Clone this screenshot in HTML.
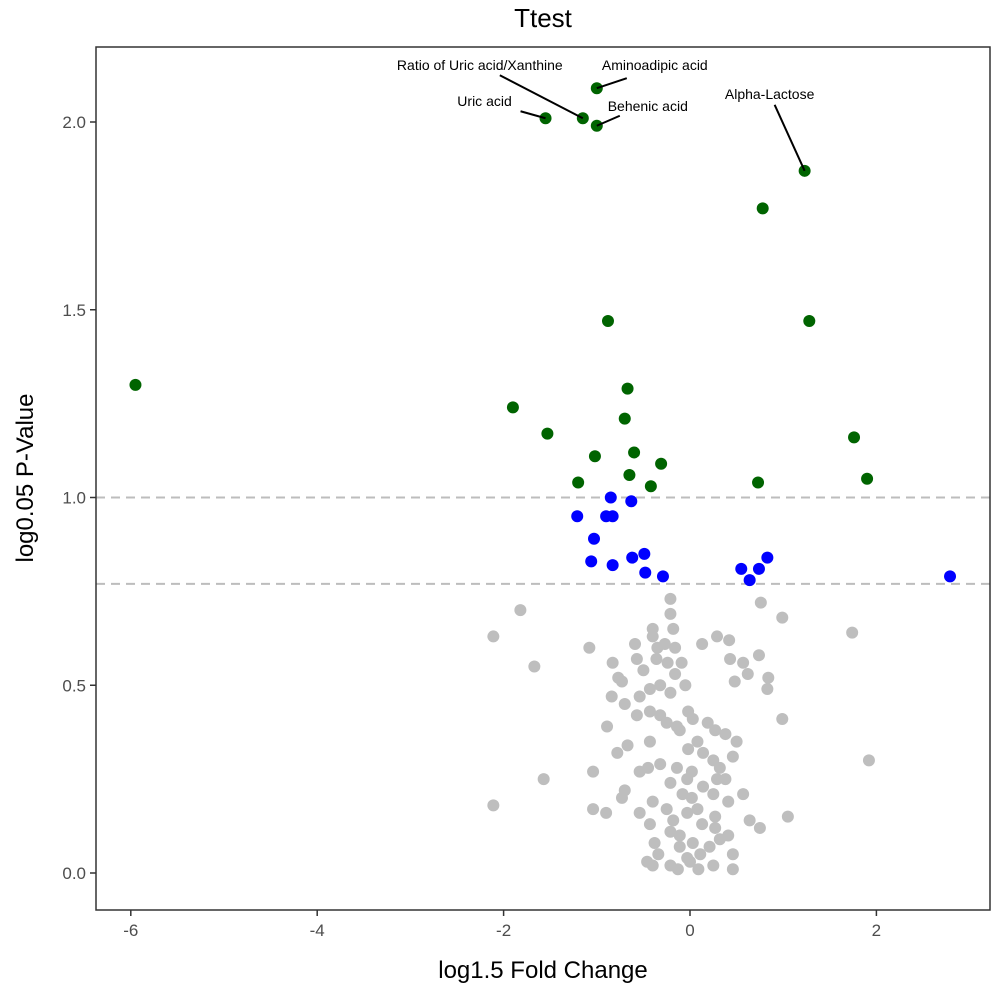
<!DOCTYPE html>
<html><head><meta charset="utf-8"><style>
body{margin:0;background:#fff}
svg{display:block;font-family:"Liberation Sans",sans-serif}
</style></head><body>
<svg id="chart" width="992" height="990"></svg>
<script>
const grayX=[-0.21,-0.21,-0.18,-0.40,-0.40,0.76,0.99,-1.08,-0.59,-0.35,-0.27,-0.16,0.13,0.29,0.42,0.74,-0.83,-0.57,-0.36,-0.24,-0.09,-0.50,-0.16,0.43,0.57,0.62,0.84,0.83,0.48,-0.77,-0.73,-0.05,-0.32,-0.43,-0.21,-0.84,-0.70,-0.54,0.99,-0.89,-0.57,-0.43,-0.32,-0.25,-0.14,-0.11,-0.02,0.03,0.19,0.27,0.38,0.50,-0.67,-0.43,-0.78,0.08,-0.02,0.14,0.25,0.46,-1.04,-0.54,-0.45,-0.32,-0.14,0.02,0.32,-0.03,-0.21,0.14,0.29,0.38,-0.70,-0.73,-0.08,0.25,0.41,0.57,0.02,-1.04,-0.90,-0.54,-0.40,-0.25,-0.43,-0.18,-0.03,0.08,0.27,0.27,0.41,0.64,0.75,1.05,-0.21,-0.11,0.13,-0.38,-0.34,-0.11,0.03,0.11,0.21,0.32,0.46,-0.46,-0.40,-0.21,-0.13,0.00,0.09,0.25,0.46,-0.03,-2.11,-1.82,-1.67,-1.57,-2.11,1.74,1.92];
const grayY=[0.73,0.69,0.65,0.65,0.63,0.72,0.68,0.60,0.61,0.60,0.61,0.60,0.61,0.63,0.62,0.58,0.56,0.57,0.57,0.56,0.56,0.54,0.53,0.57,0.56,0.53,0.52,0.49,0.51,0.52,0.51,0.50,0.50,0.49,0.48,0.47,0.45,0.47,0.41,0.39,0.42,0.43,0.42,0.40,0.39,0.38,0.43,0.41,0.40,0.38,0.37,0.35,0.34,0.35,0.32,0.35,0.33,0.32,0.30,0.31,0.27,0.27,0.28,0.29,0.28,0.27,0.28,0.25,0.24,0.23,0.25,0.25,0.22,0.20,0.21,0.21,0.19,0.21,0.20,0.17,0.16,0.16,0.19,0.17,0.13,0.14,0.16,0.17,0.15,0.12,0.10,0.14,0.12,0.15,0.11,0.10,0.13,0.08,0.05,0.07,0.08,0.05,0.07,0.09,0.05,0.03,0.02,0.02,0.01,0.03,0.01,0.02,0.01,0.04,0.63,0.70,0.55,0.25,0.18,0.64,0.30];
const greenX=[-5.95,-1.90,-1.53,-1.20,-1.02,-0.67,-0.70,-0.65,-0.60,-0.31,-0.42,-0.88,-1.55,-1.15,-1.00,-1.00,1.23,0.78,1.28,1.76,1.90,0.73];
const greenY=[1.30,1.24,1.17,1.04,1.11,1.29,1.21,1.06,1.12,1.09,1.03,1.47,2.01,2.01,1.99,2.09,1.87,1.77,1.47,1.16,1.05,1.04];
const blueX=[-1.21,-1.03,-1.06,-0.90,-0.83,-0.85,-0.83,-0.63,-0.62,-0.49,-0.48,-0.29,0.55,0.64,0.74,0.83,2.79];
const blueY=[0.95,0.89,0.83,0.95,0.95,1.00,0.82,0.99,0.84,0.85,0.80,0.79,0.81,0.78,0.81,0.84,0.79];
const labelNames=["Ratio of Uric acid/Xanthine","Aminoadipic acid","Uric acid","Behenic acid","Alpha-Lactose"];
const labelX=[-1.15,-1.00,-1.55,-1.00,1.23];
const labelY=[2.01,2.09,2.01,1.99,1.87];
const xTicks=[-6,-4,-2,0,2];
const yTicks=[0.0,0.5,1.0,1.5,2.0];
const yTickLabels=["0.0","0.5","1.0","1.5","2.0"];
const hLines=[1.0,0.77];

const NS="http://www.w3.org/2000/svg";
const svg=document.getElementById('chart');
const L=96,R=990,T=47,B=910;
const xs=v=>690+v*93.2;
const ys=v=>873-v*375.5;
function mk(tag,a,p){const e=document.createElementNS(NS,tag);for(const k in a)e.setAttribute(k,a[k]);(p||svg).appendChild(e);return e;}

const title=mk('text',{x:543,y:27,'text-anchor':'middle','font-size':26,fill:'#000'});
title.textContent='Ttest';



hLines.forEach(h=>{
  const l=mk('line',{x1:L,x2:R,y1:ys(h),y2:ys(h),stroke:'#bdbdbd','stroke-width':2,'stroke-dasharray':'9,6'});
  
  
});

function pts(X,Y,col,name){
  X.forEach((x,i)=>{
    const c=mk('circle',{cx:xs(x),cy:ys(Y[i]),r:6,fill:col});
    
    
  });
}
pts(grayX,grayY,'#bebebe','point-not-significant');
pts(blueX,blueY,'#0000ff','point-blue');
pts(greenX,greenY,'#006400','point-significant');

const offs=[[-103,-48,-83,-43],[58,-18,30,-10],[-61,-12,-25,-7],[51,-15,23,-10],[-35,-72,-30,-66]];
labelNames.forEach((n,i)=>{
  const px=xs(labelX[i]),py=ys(labelY[i]);const o=offs[i];
  const ln=mk('line',{x1:px+o[2],y1:py+o[3],x2:px,y2:py,stroke:'#000','stroke-width':2});
  
  
  const t=mk('text',{x:px+o[0],y:py+o[1],'text-anchor':'middle','font-size':14,fill:'#000'});
  t.textContent=n;
  
  
});

const frame=mk('rect',{x:L,y:T,width:R-L,height:B-T,fill:'none',stroke:'#333','stroke-width':1.5});



xTicks.forEach(v=>{
  mk('line',{x1:xs(v),x2:xs(v),y1:B,y2:B+6,stroke:'#333','stroke-width':1.5});
  const t=mk('text',{x:xs(v),y:B+26,'text-anchor':'middle','font-size':17,fill:'#4d4d4d'});
  t.textContent=String(v);
  
  
});
yTicks.forEach((v,i)=>{
  mk('line',{x1:L-6,x2:L,y1:ys(v),y2:ys(v),stroke:'#333','stroke-width':1.5});
  const t=mk('text',{x:L-10,y:ys(v)+6,'text-anchor':'end','font-size':17,fill:'#4d4d4d'});
  t.textContent=yTickLabels[i];
  
  
});
const xt=mk('text',{x:543,y:978,'text-anchor':'middle','font-size':24,fill:'#000'});
xt.textContent='log1.5 Fold Change';


const yt=mk('text',{x:0,y:0,'text-anchor':'middle','font-size':24,fill:'#000',transform:'translate(33,478) rotate(-90)'});
yt.textContent='log0.05 P-Value';


</script>
</body></html>
